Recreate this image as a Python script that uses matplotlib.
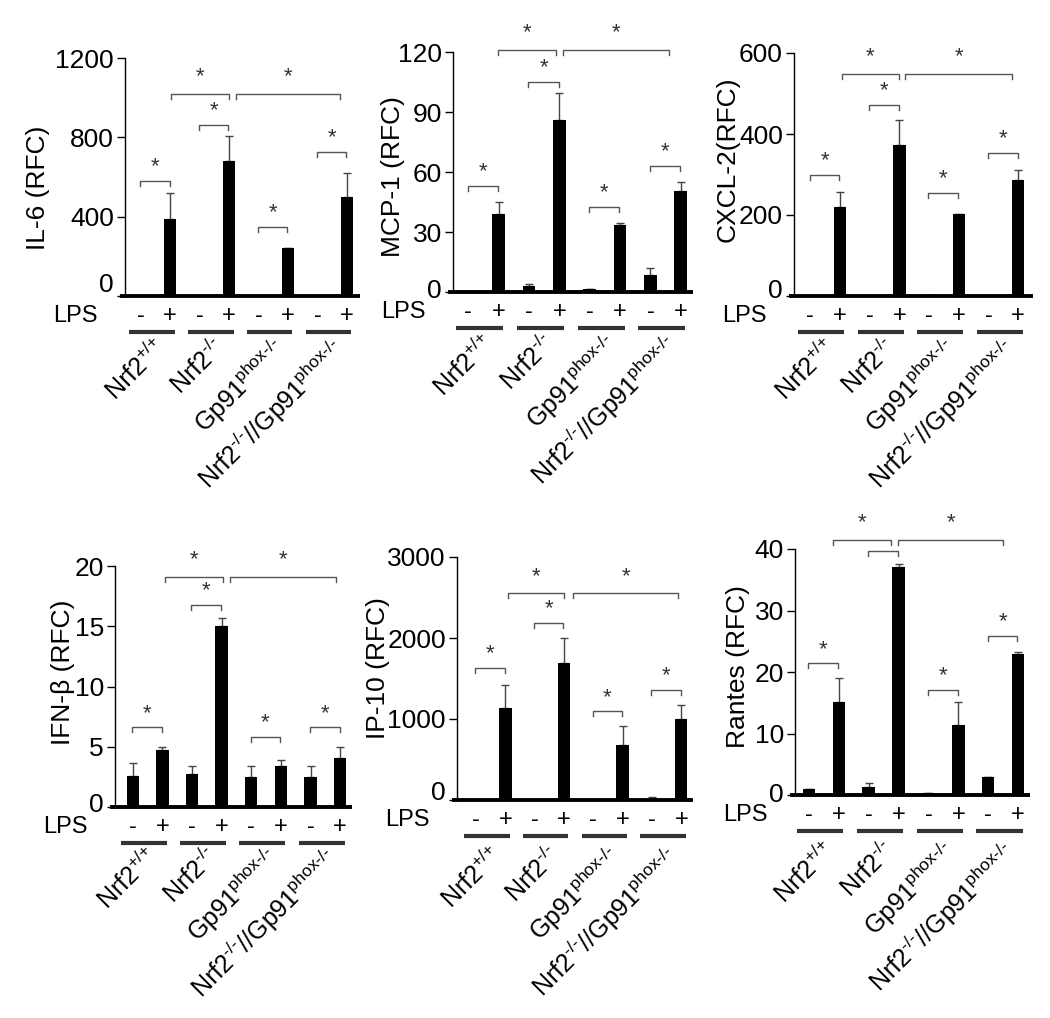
import matplotlib
matplotlib.use('Agg')
import matplotlib.pyplot as plt
from matplotlib.transforms import offset_copy, ScaledTranslation

plt.rcParams['font.family'] = ['Liberation Sans', 'DejaVu Sans']
plt.rcParams['mathtext.fontset'] = 'custom'
plt.rcParams['mathtext.rm'] = 'Liberation Sans'
plt.rcParams['mathtext.it'] = 'Liberation Sans'
plt.rcParams['mathtext.default'] = 'regular'

# categories
lps = ['-', '+'] * 4
HY = '\u2010'  # plain hyphen, so mathtext does not turn it into a wide minus
groups = [r'Nrf2$^{{+}/{+}}$',
          'Nrf2$^{%s/%s}$' % (HY, HY),
          'Gp91$^{phox%s/%s}$' % (HY, HY),
          'Nrf2$^{%s/%s}$//Gp91$^{phox%s/%s}$' % (HY, HY, HY, HY)]

# values (mean, upper error) per panel, order: (-,+) x 4 genotypes
il6_vals = [0, 390, 0, 680, 0, 240, 0, 500]
il6_err = [0, 130, 0, 125, 0, 0, 0, 120]
mcp1_vals = [0.7, 39, 3, 86, 1.5, 33.5, 8.5, 50.5]
mcp1_err = [0, 6, 1.2, 13.5, 0, 1, 3.5, 4.5]
cxcl2_vals = [0, 220, 0, 373, 2, 202, 0, 287]
cxcl2_err = [0, 38, 0, 62, 0, 0, 0, 25]
ifnb_vals = [2.55, 4.75, 2.72, 15.0, 2.47, 3.44, 2.47, 4.04]
ifnb_err = [1.1, 0.25, 0.72, 0.7, 0.97, 0.46, 0.97, 0.96]
ip10_vals = [0, 1130, 0, 1695, 0, 675, 12, 1005]
ip10_err = [0, 295, 0, 300, 0, 240, 20, 165]
rantes_vals = [0.9, 15.2, 1.35, 37.1, 0.4, 11.4, 2.9, 22.9]
rantes_err = [0, 3.8, 0.55, 0.5, 0, 3.8, 0, 0.4]

# significance brackets: heights of the 4 within-genotype brackets, and the two wide ones
il6_sig = [580, 862, 348, 726]
il6_wide = [1019, (1.03, 3.0), (3.24, 6.76)]
mcp1_sig = [53, 105, 42.5, 63]
mcp1_wide = [121, (0.98, 2.9), (3.13, 6.6)]
cxcl2_sig = [299, 472, 254, 353]
cxcl2_wide = [548, (1.05, 3.0), (3.2, 6.8)]
ifnb_sig = [6.6, 16.8, 5.83, 6.6]
ifnb_wide = [19.1, (1.1, 3.04), (3.29, 6.85)]
ip10_sig = [1628, 2185, 1095, 1360]
ip10_wide = [2550, (1.1, 3.0), (3.3, 6.9)]
rantes_sig = [21.4, 39.6, 17.1, 25.9]
rantes_wide = [41.5, (0.8, 2.75), (2.98, 6.5)]
rantes_star = [True, False, True, True]

W, H = 1050, 1018
fig = plt.figure(figsize=(W / 100, H / 100), dpi=100)

panels = [
    # label, vals, err, sig, wide, stars, yticks, box(px), xlim, ylabel x, ylabel y,
    # zero-label lift, group label drop
    ('IL-6 (RFC)', il6_vals, il6_err, il6_sig, il6_wide, [True] * 4,
     [0, 400, 800, 1200], (125, 58, 360, 296), (-0.53, 7.44), 38, 188, 13, 38),
    ('MCP-1 (RFC)', mcp1_vals, mcp1_err, mcp1_sig, mcp1_wide, [True] * 4,
     [0, 30, 60, 90, 120], (453, 52, 693, 292), (-0.5, 7.4), 393, 177, 3, 38),
    ('CXCL-2(RFC)', cxcl2_vals, cxcl2_err, cxcl2_sig, cxcl2_wide, [True] * 4,
     [0, 200, 400, 600], (794, 53, 1033, 296), (-0.55, 7.5), 728, 159, 8, 38),
    ('IFN-β (RFC)', ifnb_vals, ifnb_err, ifnb_sig, ifnb_wide, [True] * 4,
     [0, 5, 10, 15, 20], (115, 566, 352, 807), (-0.6, 7.4), 63, 672, 5, 36),
    ('IP-10 (RFC)', ip10_vals, ip10_err, ip10_sig, ip10_wide, [True] * 4,
     [0, 1000, 2000, 3000], (457, 557, 693, 800), (-0.65, 7.4), 378, 668, 10, 42),
    ('Rantes (RFC)', rantes_vals, rantes_err, rantes_sig, rantes_wide, rantes_star,
     [0, 10, 20, 30, 40], (795, 549, 1030, 795), (-0.47, 7.4), 738, 667, 3, 42),
]


def dy(ax, px):
    # convert a vertical pixel length into data units
    lo, hi = ax.get_ylim()
    return (hi - lo) * px / (ax.get_position().height * H)


def bracket(ax, x0, x1, y, star, gap=14):
    d = dy(ax, 5)
    ax.plot([x0, x0, x1, x1], [y - d, y, y, y - d], color='#555555', lw=1,
            clip_on=False)
    if star:
        ax.text((x0 + x1) / 2, y + dy(ax, gap), '*', ha='center', va='center',
                fontsize=16, color='#333333', clip_on=False)


for (ylab, vals, err, sig, wide, stars, yt, box, xl, lx, ly, lift, drop) in panels:
    l, t, r, b = box
    ax = fig.add_axes([l / W, 1 - b / H, (r - l) / W, (b - t) / H])
    x = list(range(len(vals)))
    ax.bar(x, vals, width=0.42, color='black', zorder=3)
    lower = [0] * len(err)
    ax.errorbar(x, vals, yerr=[lower, err], fmt='none', ecolor='#444444',
                elinewidth=1, capsize=3, capthick=1, zorder=2)
    ax.set_xlim(*xl)
    ax.set_ylim(yt[0], yt[-1])
    ax.set_yticks(yt)
    ax.set_xticks([])
    for s in ['top', 'right', 'bottom']:
        ax.spines[s].set_visible(False)
    ax.spines['left'].set_linewidth(1)
    ax.tick_params(axis='y', direction='out', length=6, width=1,
                   labelsize=19, pad=2)
    # the "0" label sits a little above the baseline in the original
    zl = ax.get_yticklabels()[0]
    zl.set_transform(zl.get_transform() +
                     ScaledTranslation(0, lift / 100, fig.dpi_scale_trans))
    # thick baseline
    ax.plot([-0.02, 1.0], [0, 0], transform=ax.get_yaxis_transform(),
            color='black', lw=2.8, clip_on=False, solid_capstyle='butt')

    fig.text(lx / W, 1 - ly / H, ylab, rotation=90, ha='center', va='center',
             fontsize=19)

    # LPS row
    lps_tr = offset_copy(ax.get_xaxis_transform(), fig=fig, y=-20, units='dots')
    ax.text(0, 0, 'LPS', transform=offset_copy(ax.transAxes, fig=fig, x=-27,
            y=-20, units='dots'), ha='right', va='center', fontsize=17)
    for i, s in enumerate(lps):
        ax.text(i, 0, s, transform=lps_tr, ha='center', va='center',
                fontsize=17)
    line_tr = offset_copy(ax.get_xaxis_transform(), fig=fig, y=-36, units='dots')
    lab_tr = offset_copy(ax.get_xaxis_transform(), fig=fig, y=-drop, units='dots')
    for g, name in enumerate(groups):
        ax.plot([2 * g - 0.4, 2 * g + 1.15], [0, 0], transform=line_tr,
                color='#333333', lw=3, clip_on=False, solid_capstyle='butt')
        ax.text(2 * g + 0.4, 0, name, transform=lab_tr, rotation=45,
                rotation_mode='anchor', ha='right', va='top', fontsize=18)

    # significance
    for g in range(4):
        bracket(ax, 2 * g - 0.02, 2 * g + 0.98, sig[g], stars[g])
    for span in wide[1:]:
        bracket(ax, span[0], span[1], wide[0], True, gap=17)

fig.savefig('out.png', dpi=100, facecolor='white')
